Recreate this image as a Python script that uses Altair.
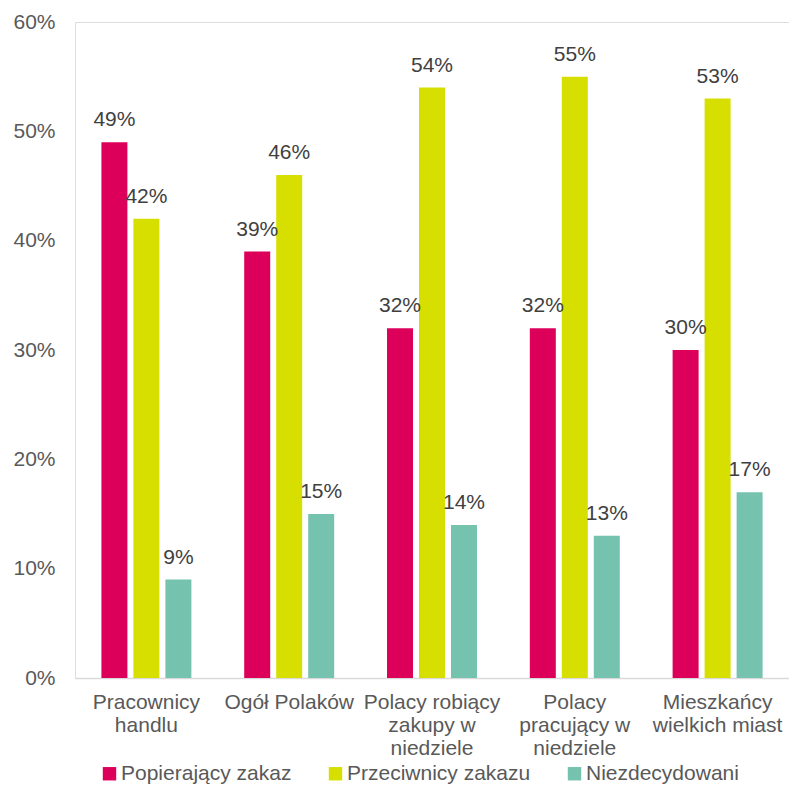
import altair as alt
import pandas as pd

categories = ["Pracownicy|handlu", "Ogół Polaków", "Polacy robiący|zakupy w|niedziele",
              "Polacy|pracujący w|niedziele", "Mieszkańcy|wielkich miast"]
series = ["Popierający zakaz", "Przeciwnicy zakazu", "Niezdecydowani"]
popierajacy = [49, 39, 32, 32, 30]
przeciwnicy = [42, 46, 54, 55, 53]
niezdecydowani = [9, 15, 14, 13, 17]
colors = ["#DC005A", "#D7DF00", "#75C2AE"]
y_ticks = [0, 10, 20, 30, 40, 50, 60]

rows = []
for s, vals in zip(series, [popierajacy, przeciwnicy, niezdecydowani]):
    for c, v in zip(categories, vals):
        rows.append({"cat": c, "series": s, "value": v})
df = pd.DataFrame(rows)

FONT = "Liberation Sans"

x = alt.X("cat:N", sort=categories, title=None,
          scale=alt.Scale(paddingInner=0.328, paddingOuter=0.164),
          axis=alt.Axis(labelExpr="split(datum.label, '|')", labelAngle=0,
                        labelFontSize=21, labelColor="#595959", labelFont=FONT,
                        labelLineHeight=23, labelPadding=13, labelBaseline="top",
                        ticks=False, domainColor="#D9D9D9", domainWidth=1.5,
                        labelLimit=300))
xo = alt.XOffset("series:N", sort=series,
                 scale=alt.Scale(paddingInner=0.1875, paddingOuter=0.09375))
y = alt.Y("value:Q", title=None,
          scale=alt.Scale(domain=[0, 60], nice=False),
          axis=alt.Axis(values=y_ticks, labelExpr="datum.value + '%'",
                        labelFontSize=21, labelColor="#595959", labelFont=FONT,
                        labelPadding=20, ticks=False, domain=False, grid=False))

bars = alt.Chart(df).mark_bar().encode(
    x=x, xOffset=xo, y=y,
    color=alt.Color("series:N", sort=series,
                    scale=alt.Scale(domain=series, range=colors),
                    legend=alt.Legend(title=None, orient="none", direction="horizontal",
                                      legendX=24, legendY=741,
                                      symbolType="square", symbolSize=180,
                                      symbolStrokeWidth=0,
                                      labelFontSize=21, labelColor="#595959",
                                      labelFont=FONT, columnPadding=33,
                                      labelOffset=1, labelLimit=400)),
)

labels = alt.Chart(df).transform_calculate(
    label="datum.value + '%'"
).mark_text(dy=-16, baseline="alphabetic", fontSize=21, color="#404040", font=FONT).encode(
    x=x, xOffset=xo, y=y, text="label:N"
)

chart = alt.layer(bars, labels).properties(
    width=714, height=656,
    padding={"left": 67, "top": 14, "right": 0, "bottom": 126},
    autosize=alt.AutoSizeParams(type="none"),
).configure_view(stroke=None).configure(font=FONT)

chart.save("out.html", embed_options={"renderer": "svg", "actions": False})
